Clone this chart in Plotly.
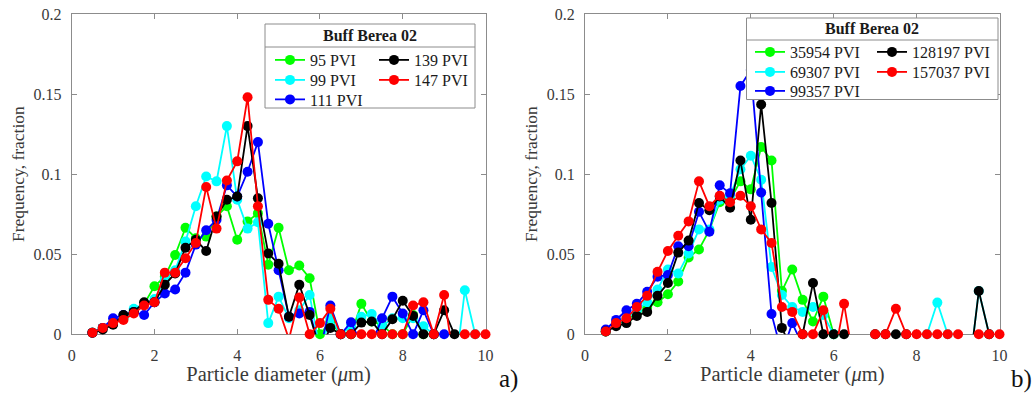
import plotly.graph_objects as go

# Particle size bins (um)
diameter = [0.5, 0.75, 1.0, 1.25, 1.5, 1.75, 2.0, 2.25, 2.5, 2.75,
            3.0, 3.25, 3.5, 3.75, 4.0, 4.25, 4.5, 4.75, 5.0, 5.25,
            5.5, 5.75, 6.0, 6.25, 6.5, 6.75, 7.0, 7.25, 7.5, 7.75,
            8.0, 8.25, 8.5, 8.75, 9.0, 9.25, 9.5, 9.75, 10.0]

# ---- panel a) : early injection stages ----
pvi_95 = [0.001, 0.004, 0.007, 0.010, 0.015, 0.019, 0.030, 0.036, 0.0495, 0.0665,
          0.060, 0.061, 0.0735, 0.080, 0.059, 0.0705, 0.0755, 0.0435, 0.0665, 0.040,
          0.043, 0.035, 0.0, 0.008, 0.0, 0.0, 0.019, 0.008, 0.006, 0.0,
          0.0, 0.012, 0.0, 0.0, None, None, None, None, None]
pvi_99 = [0.001, 0.004, 0.007, 0.010, 0.016, 0.019, 0.022, 0.034, 0.040, 0.058,
          0.080, 0.0985, 0.0955, 0.130, 0.084, 0.066, 0.070, 0.007, 0.0235, 0.010,
          0.015, 0.0245, -0.01, 0.010, 0.0, 0.005, 0.011, 0.0127, 0.005, 0.010,
          0.010, 0.010, 0.005, 0.0, None, -0.027, 0.0275, 0.0, None]
pvi_111 = [0.001, 0.004, 0.010, 0.012, 0.014, 0.012, 0.020, 0.0255, 0.028, 0.0385,
           0.056, 0.065, 0.0715, 0.093, 0.086, 0.1015, 0.120, 0.069, 0.040, 0.011,
           0.013, 0.014, -0.01, 0.018, 0.0, 0.0075, -0.006, -0.006, 0.010, 0.0235,
           0.013, 0.0, 0.015, 0.0, 0.0, None, None, None, None]
pvi_139 = [0.001, 0.003, 0.006, 0.012, 0.014, 0.020, 0.020, 0.031, 0.038, 0.054,
           0.059, 0.052, 0.0735, 0.084, 0.086, 0.130, 0.085, 0.0505, 0.044, 0.011,
           0.031, 0.012, -0.01, 0.004, 0.0, 0.0, 0.0073, 0.008, 0.0, 0.0094,
           0.021, 0.0115, 0.0, 0.0, 0.015, 0.0, None, None, None]
pvi_147 = [0.001, 0.004, 0.007, 0.009, 0.013, 0.018, 0.020, 0.0385, 0.0385, 0.0475,
           0.057, 0.092, 0.066, 0.096, 0.108, 0.148, 0.080, 0.0215, 0.016, -0.003,
           0.023, 0.0, 0.007, 0.016, 0.0, 0.0, 0.0, 0.0, 0.0, 0.0,
           0.0, 0.018, 0.020, 0.0, 0.0245, -0.02, 0.0, 0.0, 0.0]

# ---- panel b) : late injection stages ----
pvi_35954 = [0.0017, 0.006, 0.009, 0.013, 0.017, 0.020, 0.025, 0.033, 0.048, 0.053,
             0.065, 0.0825, 0.084, 0.0955, 0.0905, 0.117, 0.1085, 0.027, 0.0405, 0.0215,
             0.008, 0.0235, 0.0, None, None, None, None, None, None, None,
             None, None, None, None, None, None, None, None, None]
pvi_69307 = [0.0017, 0.006, 0.010, 0.015, 0.020, 0.028, 0.0405, 0.038, 0.0505, 0.0655,
             0.0655, 0.084, 0.0865, 0.103, 0.1115, 0.0965, 0.042, 0.0245, 0.017, 0.014,
             0.017, 0.012, 0.0, None, None, None, None, None, None, None,
             None, 0.0, 0.0198, 0.0, None, -0.027, 0.027, 0.0, None]
pvi_99357 = [0.003, 0.009, 0.015, 0.019, 0.0265, 0.036, 0.037, 0.055, 0.055, 0.0765,
             0.064, 0.093, 0.088, 0.155, 0.165, 0.0885, 0.0127, -0.012, 0.007, -0.007,
             None, None, None, None, None, None, None, None, None, None,
             None, None, None, None, None, None, None, None, None]
pvi_128197 = [0.0017, 0.005, 0.007, 0.0115, 0.014, 0.024, 0.032, 0.051, 0.0585, 0.082,
              0.0775, 0.086, 0.079, 0.1085, 0.0715, 0.1435, 0.082, 0.004, -0.01, 0.0,
              0.032, 0.0, 0.0, 0.0, None, None, 0.0, 0.0, 0.0, 0.0,
              None, None, None, None, None, -0.027, 0.027, 0.0, None]
pvi_157037 = [0.0017, 0.007, 0.010, 0.017, 0.024, 0.039, 0.052, 0.0615, 0.0705, 0.0955,
              0.080, 0.0865, 0.0825, 0.0865, 0.080, 0.0655, 0.057, 0.017, 0.014, 0.0,
              0.0, 0.015, -0.016, 0.019, -0.02, -0.02, 0.0, 0.0, 0.016, 0.0,
              0.0, 0.0, 0.0, 0.0, 0.0, -0.02, 0.0, 0.0, 0.0]

panel_a = [("95 PVI", pvi_95, "#00ff00"), ("99 PVI", pvi_99, "#00ffff"),
           ("111 PVI", pvi_111, "#0000ff"), ("139 PVI", pvi_139, "#000000"),
           ("147 PVI", pvi_147, "#ff0000")]
panel_b = [("35954 PVI", pvi_35954, "#00ff00"), ("69307 PVI", pvi_69307, "#00ffff"),
           ("99357 PVI", pvi_99357, "#0000ff"), ("128197 PVI", pvi_128197, "#000000"),
           ("157037 PVI", pvi_157037, "#ff0000")]

y_ticks = [0, 0.05, 0.1, 0.15, 0.2]
y_tick_text = ["0", "0.05", "0.1", "0.15", "0.2"]
x_ticks = [0, 2, 4, 6, 8, 10]

W, H = 1035, 396
FONT = "Liberation Serif"


def px_x(p):
    return p / W


def px_y(p):
    return 1 - p / H


# legend item positions in pixels (left edge, row centre); two columns per box
legend_slots_a = [(270, 60), (270, 80), (270, 99.5), (374, 60), (374, 80)]
legend_slots_b = [(750, 52), (750, 72), (750, 91), (872, 52), (872, 72)]

fig = go.Figure()
legend_layout = {}
n = 0
for panel, (xa, ya), slots in [(panel_a, ("x", "y"), legend_slots_a),
                               (panel_b, ("x2", "y2"), legend_slots_b)]:
    for (name, vals, col), (lx, ly) in zip(panel, slots):
        n += 1
        lid = "legend" if n == 1 else f"legend{n}"
        fig.add_trace(go.Scatter(
            x=diameter, y=vals, name=name, mode="lines+markers",
            xaxis=xa, yaxis=ya, legend=lid,
            line=dict(color=col, width=1.8),
            marker=dict(color=col, size=10),
            cliponaxis=False, connectgaps=False,
        ))
        legend_layout[lid] = dict(
            x=px_x(lx), y=px_y(ly), xanchor="left", yanchor="middle",
            bgcolor="rgba(0,0,0,0)", borderwidth=0,
            font=dict(family=FONT, size=16, color="#1a1a1a"),
        )

axis_common = dict(
    showline=True, mirror="ticks", linecolor="#8c8c8c", linewidth=1,
    ticks="inside", ticklen=5, tickcolor="#8c8c8c", tickwidth=1,
    showgrid=False, zeroline=False, layer="below traces", automargin=False,
    tickfont=dict(family=FONT, size=16, color="#3a3a3a"),
)

x_dom_a = [px_x(71.7), px_x(485.5)]
x_dom_b = [px_x(585.0), px_x(999.5)]
y_dom = [px_y(334.3), px_y(14.0)]

xtitle = dict(text="Particle diameter (<i>\u03bc</i>m)",
              font=dict(family=FONT, size=20.5, color="#3a3a3a"), standoff=3)
ytitle = dict(text="Frequency, fraction",
              font=dict(family=FONT, size=17.5, color="#3a3a3a"), standoff=4)

fig.update_layout(
    width=W, height=H, margin=dict(l=0, r=0, t=0, b=0, autoexpand=False),
    font=dict(family=FONT, size=16, color="#3a3a3a"),
    paper_bgcolor="white", plot_bgcolor="white",
    showlegend=True,
    xaxis=dict(domain=x_dom_a, range=[0, 10], tickvals=x_ticks, anchor="y",
               title=xtitle, ticklabelstandoff=6, **axis_common),
    yaxis=dict(domain=y_dom, range=[0, 0.2], tickvals=y_ticks, ticktext=y_tick_text,
               anchor="x", title=ytitle, ticklabelstandoff=6, **axis_common),
    xaxis2=dict(domain=x_dom_b, range=[0, 10], tickvals=x_ticks, anchor="y2",
                title=xtitle, ticklabelstandoff=6, **axis_common),
    yaxis2=dict(domain=y_dom, range=[0, 0.2], tickvals=y_ticks, ticktext=y_tick_text,
                anchor="x2", title=ytitle, ticklabelstandoff=6, **axis_common),
    **legend_layout,
)

# legend frames with a title row
for (x0, x1, y0, y1, ysep) in [(265, 475, 24, 108, 47), (746.5, 998, 18, 99.5, 40)]:
    fig.add_shape(type="rect", xref="paper", yref="paper",
                  x0=px_x(x0), x1=px_x(x1), y0=px_y(y1), y1=px_y(y0),
                  line=dict(color="#8c8c8c", width=1), fillcolor="white", layer="above")
    fig.add_shape(type="line", xref="paper", yref="paper",
                  x0=px_x(x0), x1=px_x(x1), y0=px_y(ysep), y1=px_y(ysep),
                  line=dict(color="#8c8c8c", width=1), layer="above")
    fig.add_annotation(x=px_x((x0 + x1) / 2), y=px_y((y0 + ysep) / 2), xref="paper", yref="paper",
                       text="<b>Buff Berea 02</b>", showarrow=False,
                       xanchor="center", yanchor="middle",
                       font=dict(family=FONT, size=16, color="#1a1a1a"))

# panel labels
for lbl, xc in [("a)", 508), ("b)", 1021)]:
    fig.add_annotation(x=px_x(xc), y=px_y(379), xref="paper", yref="paper",
                       text=lbl, showarrow=False, xanchor="center", yanchor="middle",
                       font=dict(family=FONT, size=25, color="#111111"))

fig.write_html("out.html")
